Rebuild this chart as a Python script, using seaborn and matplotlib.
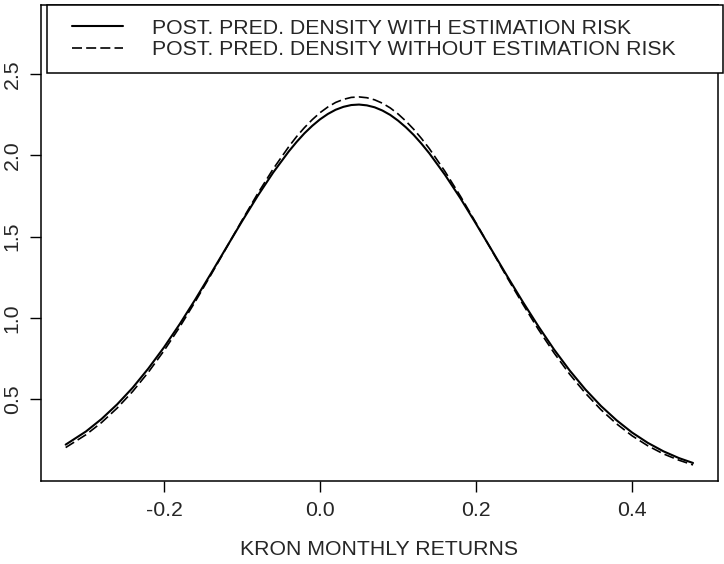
import matplotlib
matplotlib.use("Agg")
import matplotlib.pyplot as plt
import seaborn as sns
import pandas as pd

# returns grid
returns = [-0.326, -0.30, -0.28, -0.26, -0.24, -0.22, -0.20, -0.18, -0.16, -0.14,
           -0.12, -0.10, -0.08, -0.06, -0.04, -0.03, -0.02, -0.01, 0.00, 0.01,
           0.02, 0.03, 0.04, 0.05, 0.06, 0.07, 0.08, 0.09, 0.10, 0.11,
           0.12, 0.13, 0.14, 0.16, 0.18, 0.20, 0.22, 0.24, 0.26,
           0.28, 0.30, 0.32, 0.34, 0.36, 0.38, 0.40, 0.42, 0.44, 0.46, 0.478]

# density with estimation risk (solid)
dens_with = [0.219, 0.300, 0.377, 0.467, 0.570, 0.688, 0.818, 0.960, 1.112, 1.271,
             1.433, 1.594, 1.750, 1.895, 2.025, 2.083, 2.136, 2.182, 2.222, 2.255,
             2.281, 2.299, 2.310, 2.313, 2.308, 2.296, 2.276, 2.249, 2.214, 2.173,
             2.126, 2.072, 2.013, 1.881, 1.735, 1.578, 1.417, 1.255, 1.097,
             0.946, 0.804, 0.675, 0.559, 0.457, 0.369, 0.293, 0.230, 0.178, 0.136, 0.106]

# density without estimation risk (dashed)
dens_without = [0.201, 0.280, 0.355, 0.444, 0.547, 0.665, 0.797, 0.942, 1.099, 1.263,
                1.431, 1.600, 1.764, 1.917, 2.054, 2.116, 2.171, 2.220, 2.263, 2.298,
                2.326, 2.345, 2.357, 2.360, 2.355, 2.342, 2.321, 2.292, 2.255, 2.211,
                2.161, 2.104, 2.042, 1.902, 1.748, 1.583, 1.415, 1.246, 1.083,
                0.927, 0.783, 0.652, 0.536, 0.434, 0.347, 0.273, 0.212, 0.162, 0.123, 0.094]

labels = ["POST. PRED. DENSITY WITH ESTIMATION RISK",
          "POST. PRED. DENSITY WITHOUT ESTIMATION RISK"]

x_ticks = [-0.2, 0.0, 0.2, 0.4]
y_ticks = [0.5, 1.0, 1.5, 2.0, 2.5]

sns.set_style("white")
plt.rcParams['font.family'] = ['Liberation Sans', 'DejaVu Sans']
plt.rcParams['axes.unicode_minus'] = False
fs = 15.3

df = pd.DataFrame({"x": returns, "with": dens_with, "without": dens_without})

fig = plt.figure(figsize=(7.24, 5.64), dpi=100)
ax = fig.add_axes([40.7 / 724, 1 - 481 / 564, (718 - 40.7) / 724, (481 - 5) / 564])

sns.lineplot(data=df, x="x", y="with", ax=ax, color="black", lw=1.5, label=labels[0])
sns.lineplot(data=df, x="x", y="without", ax=ax, color="black", lw=1.2, label=labels[1])
ax.lines[1].set_dashes((6, 2.5))

ax.set_xlim(-0.358, 0.510)
ax.set_ylim(-0.005, 2.926)
ax.set_xticks(x_ticks)
ax.set_xticklabels([f"{v:.1f}" for v in x_ticks])
ax.set_yticks(y_ticks)
ax.set_yticklabels([f"{v:.1f}" for v in y_ticks], rotation=90, va="center")
ax.tick_params(axis="both", direction="out", length=7.7, width=1, labelsize=fs,
               color="black", bottom=True, left=True)
ax.tick_params(axis="x", pad=7)
ax.tick_params(axis="y", pad=6)
for s in ax.spines.values():
    s.set_color("black")
    s.set_linewidth(1.1)

ax.set_xlabel("KRON MONTHLY RETURNS", fontsize=fs, labelpad=14)
ax.set_ylabel("")

leg = ax.legend(loc="upper left", bbox_to_anchor=(46.7 / 724, 1 - 5 / 564, (723 - 46.7) / 724, 0.0),
                bbox_transform=fig.transFigure, mode="expand", fontsize=fs,
                frameon=True, fancybox=False, edgecolor="black", borderaxespad=0,
                handlelength=2.94, handletextpad=1.36, labelspacing=0.1, borderpad=0.65)
leg.get_frame().set_linewidth(1.1)
leg.get_frame().set_alpha(1)
# R leaves a gap before the legend sample lines
for ln in leg.get_lines():
    xd = list(ln.get_xdata())
    yd = list(ln.get_ydata())
    ln.set_data([xd[0] + 8.3, xd[-1]], [yd[0], yd[0]])

fig.savefig("out.png", dpi=100)
